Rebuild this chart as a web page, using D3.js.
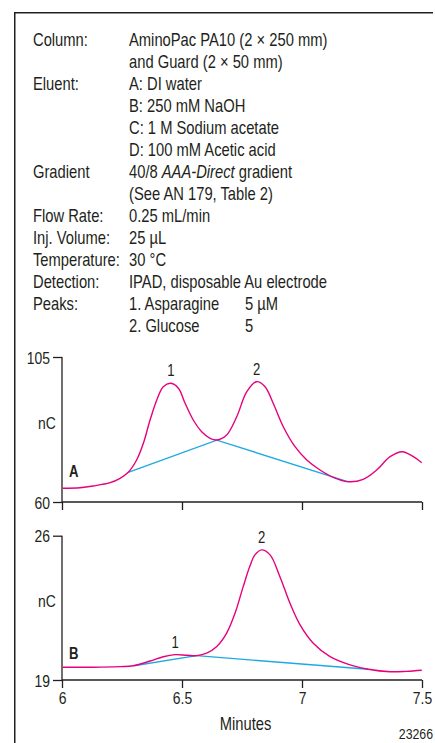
<!DOCTYPE html>
<html><head><meta charset="utf-8">
<script src="https://cdn.jsdelivr.net/npm/d3@7"></script>
<style>
html,body{margin:0;padding:0;background:#fff;}
svg{display:block;}
text{font-family:"Liberation Sans",Arial,sans-serif;fill:#231f20;}
</style></head>
<body>
<svg id="c" width="435" height="743"></svg>
<script>
// ---- condition table ----
const condLabels = ["Column:", "", "Eluent:", "", "", "", "Gradient", "", "Flow Rate:", "Inj. Volume:", "Temperature:", "Detection:", "Peaks:", ""];
const condValues = ["AminoPac PA10 (2 × 250 mm)", "and Guard (2 × 50 mm)", "A: DI water", "B: 250 mM NaOH", "C: 1 M Sodium acetate", "D: 100 mM Acetic acid", "40/8 |AAA-Direct| gradient", "(See AN 179, Table 2)", "0.25 mL/min", "25 µL", "30 °C", "IPAD, disposable Au electrode", "1. Asparagine", "2. Glucose"];
const peakConc = ["", "", "", "", "", "", "", "", "", "", "", "", "5 µM", "5"];

// ---- shared x axis ----
const xDomain = [6, 7.5];
const xTicks = [6, 6.5, 7, 7.5];
const xTickLabels = ["6", "6.5", "7", "7.5"];
const xTitle = "Minutes";
const yTitle = "nC";
const figNumber = "23266";

// ---- chromatogram A ----
const yDomainA = [60, 105];
const yTicksA = [60, 105];
const timeA  = [6.003, 6.075, 6.130, 6.200, 6.242, 6.276, 6.311, 6.339, 6.367, 6.395, 6.422, 6.454, 6.485, 6.513, 6.547, 6.582, 6.617, 6.645, 6.686, 6.728, 6.770, 6.811, 6.846, 6.880, 6.922, 6.971, 7.020, 7.075, 7.130, 7.193, 7.255, 7.311, 7.367, 7.418, 7.464, 7.499];
const signalA = [64.25, 64.44, 64.97, 65.99, 67.36, 69.22, 73.03, 78.22, 85.45, 91.66, 95.78, 96.84, 95.29, 90.63, 85.45, 81.82, 79.77, 79.24, 80.79, 86.47, 94.23, 97.34, 95.78, 90.63, 83.37, 77.16, 73.03, 69.93, 67.66, 66.30, 67.04, 69.93, 74.06, 75.61, 74.06, 72.20];
const baseTimeA = [6.276, 6.645, 7.19];
const baseValA  = [69.2, 79.2, 66.3];
const peakNumA = ["1", "2"];
const peakTimeA = [6.454, 6.811];
const peakTopA = [96.84, 97.34];

// ---- chromatogram B ----
const yDomainB = [19, 26];
const yTicksB = [19, 26];
const timeB  = [6.003, 6.130, 6.242, 6.297, 6.367, 6.422, 6.471, 6.520, 6.561, 6.603, 6.645, 6.686, 6.721, 6.755, 6.783, 6.804, 6.832, 6.867, 6.908, 6.950, 6.992, 7.047, 7.117, 7.200, 7.276, 7.367, 7.436, 7.499];
const signalB = [19.62, 19.62, 19.65, 19.69, 19.92, 20.13, 20.23, 20.20, 20.18, 20.30, 20.62, 21.27, 22.24, 23.53, 24.53, 25.07, 25.31, 25.07, 24.01, 22.72, 21.67, 20.78, 20.13, 19.73, 19.52, 19.40, 19.42, 19.47];
const baseTimeB = [6.30, 6.561, 7.276];
const baseValB  = [19.69, 20.18, 19.52];
const peakNumB = ["1", "2"];
const peakTimeB = [6.471, 6.832];
const peakTopB = [20.23, 25.31];

const PINK = "#e6007e", BLUE = "#1fa9e1", INK = "#231f20";
const SX = 0.82; // condensed type
const svg = d3.select("#c");

function txt(parent, x, y, s, size, anchor, weight) {
  return parent.append("text")
    .attr("transform", `translate(${x},${y}) scale(${SX},1)`)
    .attr("text-anchor", anchor || "start")
    .attr("font-size", size)
    .attr("font-weight", weight || null)
    .text(s);
}

// frame
svg.append("path").attr("d", "M14.75,743V12.75H433").attr("fill", "none").attr("stroke", INK).attr("stroke-width", 1.5);

// condition table
const rowY0 = 45.5, rowH = 22;
condValues.forEach((v, i) => {
  const y = rowY0 + i * rowH;
  if (condLabels[i]) txt(svg, 33, y, condLabels[i], 18);
  const t = txt(svg, 129, y, "", 18);
  v.split("|").forEach((part, k) => {
    t.append("tspan").attr("font-style", k % 2 ? "italic" : null).text(part);
  });
  if (peakConc[i]) txt(svg, 245, y, peakConc[i], 18);
});

const x = d3.scaleLinear().domain(xDomain).range([62, 422]);

function panel(cfg) {
  const y = d3.scaleLinear().domain(cfg.yDomain).range(cfg.yRange);
  const g = svg.append("g");
  // y axis
  const ya = g.append("g").attr("transform", `translate(${x(xDomain[0])},0)`)
    .call(d3.axisLeft(y).tickValues(cfg.yTicks).tickSize(9).tickFormat(d3.format("d")));
  ya.select(".domain").remove();
  g.append("line").attr("x1", x(xDomain[0])).attr("x2", x(xDomain[0]))
    .attr("y1", y(cfg.yDomain[0])).attr("y2", y(cfg.yDomain[1])).attr("stroke", INK).attr("stroke-width", 1.3);
  // x axis
  const xa = g.append("g").attr("transform", `translate(0,${y(cfg.yDomain[0])})`)
    .call(d3.axisBottom(x).tickValues(xTicks).tickSize(8).tickFormat((d, i) => cfg.showX ? xTickLabels[i] : ""));
  xa.select(".domain").attr("d", `M${x(xDomain[0])},0H${x(xDomain[1])}`);
  [ya, xa].forEach(a => {
    a.selectAll("path,line").attr("stroke", INK).attr("stroke-width", 1.3);
    a.selectAll("text").attr("font-size", 17).attr("fill", INK)
      .attr("font-family", '"Liberation Sans",Arial,sans-serif');
  });
  ya.selectAll("text").attr("transform", `scale(${SX},1)`).attr("x", -12 / SX).attr("dy", "0.36em");
  xa.selectAll("text").attr("transform", `scale(${SX},1)`).attr("y", 11).attr("dy", "0.76em");
  // nC label
  txt(g, 47, cfg.nCY, yTitle, 17, "middle");
  // panel letter
  txt(g, 69, cfg.letterY, cfg.letter, 16, "start", "bold");
  // baseline
  const bl = d3.line().x((d, i) => x(cfg.bt[i])).y((d, i) => y(cfg.bv[i]));
  g.append("path").datum(cfg.bt).attr("d", bl).attr("fill", "none").attr("stroke", BLUE).attr("stroke-width", 1.4);
  // signal
  const sl = d3.line().curve(d3.curveCatmullRom.alpha(0.5)).x((d, i) => x(cfg.t[i])).y((d, i) => y(cfg.s[i]));
  g.append("path").datum(cfg.t).attr("d", sl).attr("fill", "none").attr("stroke", PINK).attr("stroke-width", 1.4);
  // peak labels
  cfg.pn.forEach((n, i) => txt(g, x(cfg.pt[i]), y(cfg.pv[i]) - 7, n, 16, "middle"));
  return y;
}

panel({yDomain: yDomainA, yRange: [502, 357], yTicks: yTicksA, showX: false, letter: "A", letterY: 476.5, nCY: 429,
  t: timeA, s: signalA, bt: baseTimeA, bv: baseValA, pn: peakNumA, pt: peakTimeA, pv: peakTopA});
panel({yDomain: yDomainB, yRange: [680, 535.7], yTicks: yTicksB, showX: true, letter: "B", letterY: 659, nCY: 607,
  t: timeB, s: signalB, bt: baseTimeB, bv: baseValB, pn: peakNumB, pt: peakTimeB, pv: peakTopB});

txt(svg, 245.5, 730, xTitle, 18, "middle");
txt(svg, 433, 739, figNumber, 15, "end");
</script>
</body></html>
